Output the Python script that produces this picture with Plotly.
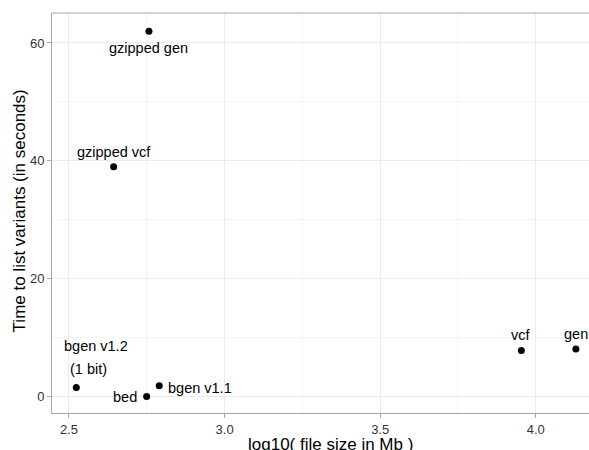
import plotly.graph_objects as go

# Data
formats = ["gzipped gen", "gzipped vcf", "bgen v1.2", "bed", "bgen v1.1", "vcf", "gen"]
log10_size_mb = [2.757, 2.6435, 2.5235, 2.7495, 2.790, 3.9537, 4.129]
time_seconds = [62.0, 39.0, 1.53, 0.0, 1.82, 7.81, 8.05]
x_ticks = [2.5, 3.0, 3.5, 4.0]
y_ticks = [0, 20, 40, 60]

# label display text and pixel offsets (style)
label_specs = {
    "gzipped gen": [("gzipped gen", 0, -17, "center")],
    "gzipped vcf": [("gzipped vcf", 0, 15, "center")],
    "bgen v1.2": [("bgen v1.2", 20, 41, "center"), ("(1 bit)", 12, 18, "center")],
    "bed": [("bed", -8, -1, "right")],
    "bgen v1.1": [("bgen v1.1", 7, -2, "left")],
    "vcf": [("vcf", 0, 15, "center")],
    "gen": [("gen", 0, 15, "center")],
}

FONT = "Liberation Sans, Arial, Helvetica, sans-serif"
W = 600  # figure a little wider than the window; the page clips the right edge

fig = go.Figure()
fig.add_trace(go.Scatter(
    x=log10_size_mb, y=time_seconds, mode="markers",
    marker=dict(color="black", size=7),
    hoverinfo="skip", showlegend=False,
))

annotations = []
for name, xv, yv in zip(formats, log10_size_mb, time_seconds):
    for text, dx, dy, anchor in label_specs[name]:
        annotations.append(dict(
            x=xv, y=yv, xref="x", yref="y", text=text, showarrow=False,
            xanchor=anchor, yanchor="middle", xshift=dx, yshift=dy,
            font=dict(family=FONT, size=14.5, color="black"),
        ))

plot_w = W - 52
annotations.append(dict(
    x=(330 - 52) / plot_w, y=-0.078, xref="paper", yref="paper",
    text="log10( file size in Mb )", showarrow=False,
    xanchor="center", yanchor="middle",
    font=dict(family=FONT, size=17, color="black"),
))
annotations.append(dict(
    x=(19 - 52) / plot_w, y=0.504, xref="paper", yref="paper",
    text="Time to list variants (in seconds)", showarrow=False,
    textangle=-90, xanchor="center", yanchor="middle",
    font=dict(family=FONT, size=17, color="black"),
))

axis_common = dict(
    showline=True, linecolor="#a6a6a6", linewidth=1,
    ticks="outside", ticklen=4, tickcolor="#a6a6a6", tickwidth=1,
    showgrid=True, gridcolor="#ebebeb", gridwidth=1,
    zeroline=False,
    tickfont=dict(family=FONT, size=13, color="#333333"),
)

fig.update_layout(
    width=W, height=450,
    margin=dict(l=52, r=0, t=13, b=37),
    paper_bgcolor="white", plot_bgcolor="white",
    xaxis=dict(range=[2.4454, 4.2065], tickvals=x_ticks,
               ticktext=[f"{v:.1f}" for v in x_ticks],
               minor=dict(tickvals=[2.75, 3.25, 3.75, 4.25], showgrid=True,
                          gridcolor="#f4f4f4", ticks=""),
               **axis_common),
    yaxis=dict(range=[-2.82, 65.09], tickvals=y_ticks,
               ticktext=[str(v) for v in y_ticks],
               minor=dict(tickvals=[10, 30, 50], showgrid=True,
                          gridcolor="#f4f4f4", ticks=""),
               **axis_common),
    annotations=annotations,
    shapes=[dict(type="line", xref="paper", yref="paper", x0=0, x1=1, y0=1, y1=1,
                 line=dict(color="#a6a6a6", width=1))],
)

fig.write_html(
    "out.html",
    config={"displayModeBar": False},
    post_script="document.body.style.margin='0';document.body.style.overflow='hidden';",
)
